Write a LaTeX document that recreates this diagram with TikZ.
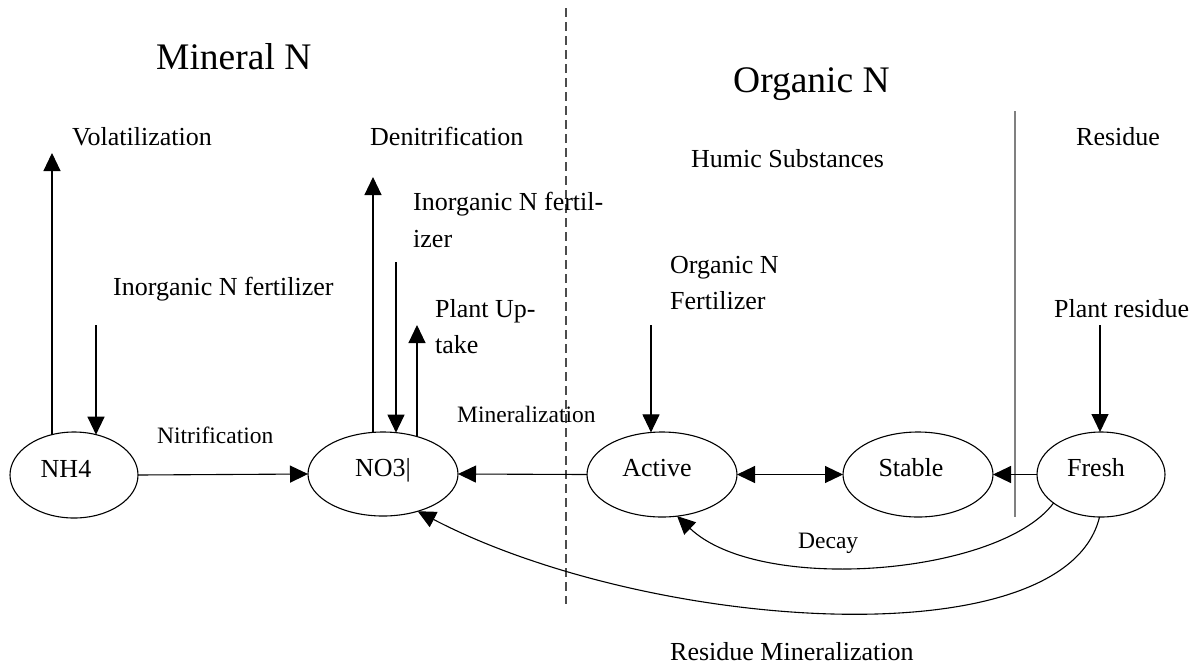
\documentclass[tikz,border=0pt]{standalone}
\usepackage{fontspec}
\setmainfont{Liberation Serif}
\usetikzlibrary{arrows.meta,shapes.geometric}
\tikzset{
  bigtri/.tip={Triangle[length=18pt,width=17pt]},
  ell/.style={draw, ellipse, line width=1.1pt, inner sep=0pt, outer sep=0pt,
    text height=17pt, text depth=13pt, font=\fontsize{26}{30}\selectfont},
  body/.style={font=\fontsize{26}{30}\selectfont, inner sep=0pt, anchor=base west},
  small/.style={font=\fontsize{23.5}{28}\selectfont, inner sep=0pt, anchor=base west},
  big/.style={font=\fontsize{37.5}{44}\selectfont, inner sep=0pt, anchor=base west},
  arr/.style={line width=1.1pt, -bigtri},
  twoarr/.style={line width=1.1pt, bigtri-bigtri},
  divider/.style={line width=1.2pt, color=black!70, dash pattern=on 9pt off 5pt},
  rule/.style={line width=1.5pt, color=black!50},
}
\begin{document}
\begin{tikzpicture}[x=1pt,y=-1pt]
\useasboundingbox[fill=white] (0,0) rectangle (1202,665);

% separators
\coordinate (dashTop) at (566,8);
\coordinate (dashBot) at (566,604);
\draw[divider] (dashTop) -- (dashBot);
\coordinate (ruleTop) at (1015,111);
\coordinate (ruleBot) at (1015,517);
\draw[rule] (ruleTop) -- (ruleBot);

% pools
\node[ell, minimum width=128pt, minimum height=86pt] (NH4) at (74,475) {\kern-16pt NH4};
\node[ell, minimum width=150pt, minimum height=84pt] (NO3) at (383,474) {NO3|};
\node[ell, minimum width=150pt, minimum height=85pt] (Active) at (662,474.5) {\kern-10pt Active};
\node[ell, minimum width=150pt, minimum height=85pt] (Stable) at (918,474.5) {\kern-14pt Stable};
\node[ell, minimum width=128pt, minimum height=85pt] (Fresh) at (1101,474.5) {\kern-10pt Fresh};

% labels
\node[big] (minN) at (156,69) {Mineral N};
\node[big] (orgN) at (733,92) {Organic N};
\node[body] (vol) at (72,145) {Volatilization};
\node[body] (denit) at (370,145) {Denitrification};
\node[body] (humic) at (691,167) {Humic Substances};
\node[body] (resid) at (1076,145) {Residue};
\node[body] (inoA1) at (413,210) {Inorganic N fertil-};
\node[body] (inoA2) at (413,247) {izer};
\node[body] (inoB) at (113,295) {Inorganic N fertilizer};
\node[body] (orgF1) at (670,273) {Organic N};
\node[body] (orgF2) at (670,309) {Fertilizer};
\node[body] (plres) at (1054,317) {Plant residue};
\node[body] (upt1) at (435,317) {Plant Up-};
\node[body] (upt2) at (435,353) {take};
\node[small] (mine) at (457,422) {Mineralization};
\node[small] (nitr) at (157,443) {Nitrification};
\node[small] (decay) at (798,548) {Decay};
\node[body] (resmin) at (670,660) {Residue Mineralization};

% free ends
\coordinate (volTip) at (52,153);
\coordinate (fertA) at (96,325);
\coordinate (denTip) at (373,177);
\coordinate (fertB) at (396,262);
\coordinate (uptTip) at (417,325);
\coordinate (fertC) at (651,325);
\coordinate (resTop) at (1100,325);

% connectors
\draw[arr] (volTip |- NH4.118.6) -- (volTip);
\draw[arr] (fertA) -- (fertA |- NH4.61.4);
\draw[arr] (NH4.east) -- (NO3.west);
\draw[arr] (denTip |- NO3.103.5) -- (denTip);
\draw[arr] (fertB) -- (fertB |- NO3.72.6);
\draw[arr] (uptTip |- NO3.47.7) -- (uptTip);
\draw[arr] (Active.west) -- (NO3.east);
\draw[arr] (fertC) -- (fertC |- Active.104.6);
\draw[twoarr] (Active.east) -- (Stable.west);
\draw[arr] (Fresh.west) -- (Stable.east);
\draw[arr] (resTop) -- (resTop |- Fresh.north);
\draw[arr] (Fresh.211) .. controls (1000,575) and (760,595) .. (Active.-70);
\draw[arr] (Fresh.-92) .. controls (1065,660) and (650,632) .. (NO3.-47);
\end{tikzpicture}
\end{document}
